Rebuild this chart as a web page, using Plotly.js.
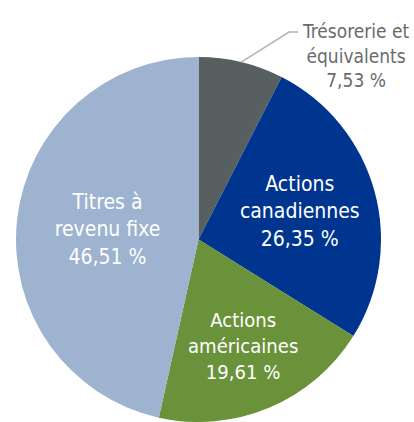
<!DOCTYPE html>
<html>
<head>
<meta charset="utf-8">
<script src="https://cdn.plot.ly/plotly-3.0.1.min.js"></script>
<style>html,body{margin:0;padding:0;background:#fff;}#chart{width:414px;height:422px;}</style>
</head>
<body>
<div id="chart"></div>
<script>
// Data
var categories = ['Trésorerie et équivalents', 'Actions canadiennes', 'Actions américaines', 'Titres à revenu fixe'];
var labelLines = ['Trésorerie et<br>équivalents', 'Actions<br>canadiennes', 'Actions<br>américaines', 'Titres à<br>revenu fixe'];
var values = [7.53, 26.35, 19.61, 46.51];
var colors = ['#575f61', '#00358f', '#6a923a', '#9db3cf'];

var W = 414, H = 422, T = 57;
var FONT = '"DejaVu Sans Condensed", "Liberation Sans Narrow", sans-serif';

function fmt(v) { return v.toFixed(2).replace('.', ',') + '\u00a0%'; }
var texts = values.map(function (v, i) { return labelLines[i] + '<br>' + fmt(v); });

var domX = [16 / W, 381 / W];
var trace = {
  type: 'pie',
  labels: categories,
  values: values,
  text: texts,
  textinfo: 'text',
  hoverinfo: 'label+percent',
  textposition: ['none', 'inside', 'inside', 'inside'],
  insidetextorientation: 'horizontal',
  insidetextfont: { family: FONT, size: 21, color: '#ffffff' },
  marker: { colors: colors, line: { width: 0 } },
  sort: false,
  direction: 'clockwise',
  rotation: 0,
  domain: { x: domX, y: [0, 1] },
  showlegend: false
};

// Leader line for small slice, from slice's mid-angle on the rim
var total = values.reduce(function (a, b) { return a + b; }, 0);
var cx = (domX[0] + domX[1]) / 2 * W;
var plotH = H - T;
var R = Math.min((domX[1] - domX[0]) * W, plotH) / 2;
var cy = T + plotH / 2;
var midFrac = values[0] / 2 / total;
var ang = midFrac * 2 * Math.PI;
var p0 = [cx + R * Math.sin(ang), cy - R * Math.cos(ang)];
var p1 = [289, 32];
var p2 = [298, 32];
function px(x) { return x / W; }
function py(y) { return (H - y) / plotH; }

var layout = {
  width: W, height: H,
  margin: { l: 0, r: 0, t: T, b: 0 },
  paper_bgcolor: '#ffffff',
  plot_bgcolor: '#ffffff',
  shapes: [{
    type: 'path', xref: 'paper', yref: 'paper',
    path: 'M' + px(p0[0]) + ',' + py(p0[1]) + ' L' + px(p1[0]) + ',' + py(p1[1]) + ' L' + px(p2[0]) + ',' + py(p2[1]),
    line: { color: '#b3b3b3', width: 1.5 }
  }],
  annotations: [{
    xref: 'paper', yref: 'paper',
    x: px(412), y: py(56),
    xanchor: 'right', yanchor: 'middle',
    text: texts[0],
    showarrow: false,
    align: 'center',
    font: { family: FONT, size: 19, color: '#6a6b6d' }
  }]
};

Plotly.newPlot('chart', [trace], layout, { displayModeBar: false, staticPlot: true });
</script>
</body>
</html>
